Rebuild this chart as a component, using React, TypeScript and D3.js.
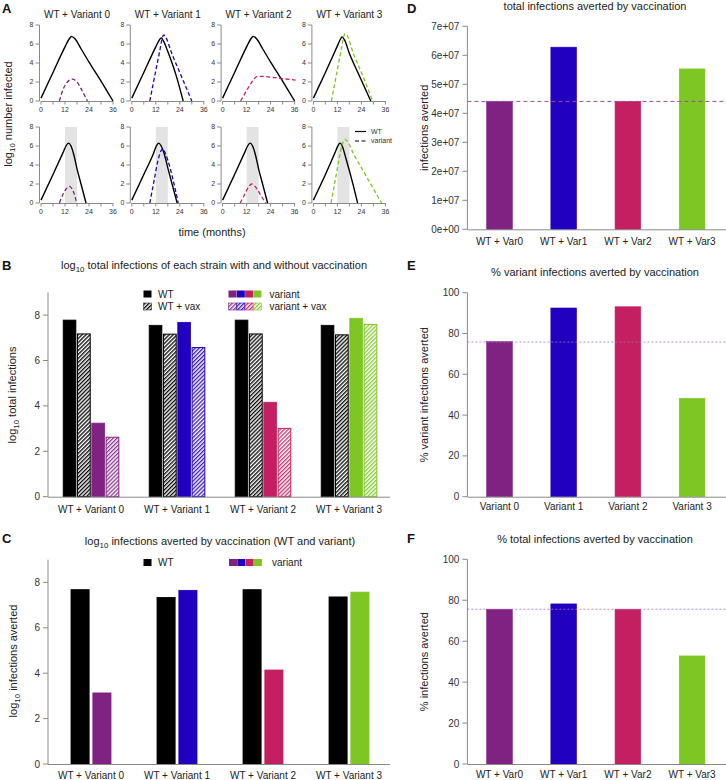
import React from "react";
import * as d3 from "d3";

const FONT = "'Liberation Sans', Arial, Helvetica, sans-serif";

// ---------- shared ----------
const variantColors = ["#7f2282", "#2200c0", "#c41f61", "#7dc623"];

// ---------- panel A data ----------
const panelATitles = ["WT + Variant 0", "WT + Variant 1", "WT + Variant 2", "WT + Variant 3"];
const monthTicks = [0, 12, 24, 36];
const monthMinorTicks = [6, 18, 30];
const logTicksA = [0, 2, 4, 6, 8];
const vaxWindow = [12, 18];

// [month, log10 number infected] — no vaccination (top row)
const wtNoVax: number[][][] = [
  [[0, 0.3], [6, 3.0], [12, 5.7], [14, 6.5], [15.3, 6.8], [17, 6.55], [20, 5.5], [24, 4.1], [30, 2.1], [36, 0]],
  [[0, 0.3], [6, 3.0], [12, 5.7], [14, 6.5], [14.8, 6.65], [16, 6.25], [18, 5.2], [22, 2.8], [25.7, 0]],
  [[0, 0.3], [6, 3.0], [12, 5.7], [14, 6.5], [15.3, 6.8], [17, 6.55], [20, 5.5], [24, 4.1], [30, 2.1], [36, 0]],
  [[0, 0.3], [6, 3.0], [12, 5.8], [13.5, 6.5], [14.3, 6.75], [15.5, 6.45], [18, 5.0], [22, 3.1], [28.7, 0]],
];
const variantNoVax: number[][][] = [
  [[9.2, 0], [11, 1.2], [13, 1.95], [15.6, 2.3], [18, 2.0], [20, 1.3], [23.2, 0]],
  [[9, 0], [12, 3.2], [14, 5.3], [15.2, 6.6], [16, 6.95], [17, 6.7], [20, 5.0], [24, 3.0], [30, 0]],
  [[9, 0], [12, 1.1], [14, 1.8], [16, 2.4], [17.5, 2.6], [20, 2.6], [24, 2.5], [30, 2.35], [36.5, 2.2]],
  [[9, 0], [12, 3.3], [14, 5.5], [15.2, 6.8], [15.8, 7.1], [16.8, 6.9], [20, 5.0], [25, 2.5], [29.6, 0]],
];
// with vaccination (bottom row)
const wtVax: number[][][] = [
  [[0, 0.3], [6, 3.0], [11, 5.3], [12.5, 6.0], [13.7, 6.3], [15, 6.0], [16.5, 5.0], [18, 3.6], [20, 2.0], [22.5, 0]],
  [[0, 0.3], [6, 3.0], [11, 5.3], [12.3, 6.0], [13.3, 6.3], [14.7, 6.0], [16.3, 5.1], [18, 3.7], [20, 2.1], [22.7, 0]],
  [[0, 0.3], [6, 3.0], [11, 5.3], [12.5, 6.0], [13.7, 6.3], [15, 6.0], [16.5, 5.0], [18, 3.6], [20, 2.0], [22.5, 0]],
  [[0, 0.3], [6, 3.0], [11, 5.4], [12.3, 6.05], [13.3, 6.3], [14.6, 5.9], [16, 4.9], [18, 3.4], [20, 1.8], [22.1, 0]],
];
const variantVax: number[][][] = [
  [[9.2, 0], [11, 0.9], [12.5, 1.45], [14.2, 1.75], [15.5, 1.5], [17, 0.7], [17.8, 0]],
  [[9, 0], [11, 2.2], [13, 4.4], [14.5, 5.45], [15.5, 5.7], [17, 5.1], [19, 3.8], [21, 2.1], [23.2, 0]],
  [[8.8, 0], [11, 0.9], [13, 1.7], [14.5, 2.0], [16, 1.8], [18, 1.2], [20, 0.5], [21.8, 0]],
  [[8.8, 0], [11, 2.5], [13, 4.8], [14.5, 6.2], [15.8, 6.7], [17, 6.5], [20, 5.2], [25, 3.35], [30, 1.5], [34.1, 0]],
];

// ---------- panels B, C data ----------
const groupLabels = ["WT + Variant 0", "WT + Variant 1", "WT + Variant 2", "WT + Variant 3"];
const logTicksB = [0, 2, 4, 6, 8];
const totalWT = [7.78, 7.55, 7.78, 7.55];
const totalWTVax = [7.17, 7.16, 7.17, 7.13];
const totalVariant = [3.24, 7.68, 4.16, 7.86];
const totalVariantVax = [2.62, 6.57, 3.01, 7.59];
const avertedWT = [7.68, 7.34, 7.68, 7.36];
const avertedVariant = [3.13, 7.65, 4.14, 7.57];

// ---------- panels D, E, F data ----------
const shortLabels = ["WT + Var0", "WT + Var1", "WT + Var2", "WT + Var3"];
const variantLabels = ["Variant 0", "Variant 1", "Variant 2", "Variant 3"];
const totalAverted = [4.41e7, 6.28e7, 4.41e7, 5.53e7];
const totalAvertedRef = 4.41e7;
const countTicks = [0, 1e7, 2e7, 3e7, 4e7, 5e7, 6e7, 7e7];
const pctVariantAverted = [76.0, 92.5, 93.1, 48.2];
const pctVariantRef = 75.8;
const pctTotalAverted = [75.6, 78.2, 75.6, 52.8];
const pctTotalRef = 75.6;
const pctTicks = [0, 20, 40, 60, 80, 100];

const AXIS = "#8a8a8a";
const TXT = "#222";

function Log10Label({ x, y, rotate, size, rest, anchor = "middle" }: any) {
  return (
    <text
      transform={`translate(${x},${y})${rotate ? " rotate(-90)" : ""}`}
      textAnchor={anchor}
      fontSize={size}
      fill={TXT}
    >
      log
      <tspan dy={size * 0.3} fontSize={size * 0.72}>10</tspan>
      <tspan dy={-size * 0.3}>{rest}</tspan>
    </text>
  );
}

function PanelA() {
  const line = d3.line<number[]>().x((d) => d[0]).y((d) => d[1]).curve(d3.curveMonotoneX);
  const rows = [
    { y0: 101, wt: wtNoVax, v: variantNoVax, shade: false },
    { y0: 203, wt: wtVax, v: variantVax, shade: true },
  ];
  const els: any[] = [];
  rows.forEach((row, r) => {
    for (let c = 0; c < 4; c++) {
      const x0 = 41 + c * 90.8;
      const x = d3.scaleLinear().domain([0, 36]).range([x0, x0 + 72]);
      const y = d3.scaleLinear().domain([0, 8]).range([row.y0, row.y0 - 76]);
      const key = `${r}-${c}`;
      if (row.shade) {
        els.push(
          <rect key={key + "sh"} x={x(vaxWindow[0])} y={y(8)} width={x(vaxWindow[1]) - x(vaxWindow[0])} height={y(0) - y(8)} fill="#e3e3e3" />
        );
      }
      // axes
      els.push(
        <g key={key + "ax"} fontSize={7} fill="#333">
          <line x1={x(0)} x2={x(36)} y1={y(0) + 0.5} y2={y(0) + 0.5} stroke={AXIS} />
          {monthTicks.concat(monthMinorTicks).map((t) => (
            <line key={"xt" + t} x1={x(t)} x2={x(t)} y1={y(0)} y2={y(0) + 3.5} stroke={AXIS} />
          ))}
          {monthTicks.map((t) => (
            <text key={"xl" + t} x={x(t)} y={y(0) + 11} textAnchor="middle">{t}</text>
          ))}
          <line x1={x0 - 1.5} x2={x0 - 1.5} y1={y(0)} y2={y(8)} stroke={AXIS} />
          {logTicksA.map((t) => (
            <g key={"yt" + t}>
              <line x1={x0 - 5.5} x2={x0 - 1.5} y1={y(t)} y2={y(t)} stroke={AXIS} />
              <text x={x0 - 7.5} y={y(t)} dy="0.35em" textAnchor="end">{t}</text>
            </g>
          ))}
        </g>
      );
      els.push(
        <path key={key + "wt"} d={line(row.wt[c].map((d) => [x(d[0]), y(d[1])]))!} fill="none" stroke="#000" strokeWidth={1.4} />
      );
      els.push(
        <path key={key + "v"} d={line(row.v[c].map((d) => [x(d[0]), y(d[1])]))!} fill="none" stroke={variantColors[c]} strokeWidth={1.3} strokeDasharray="4,2.5" />
      );
      if (r === 0) {
        els.push(
          <text key={key + "ti"} x={x0 + 36} y={18} textAnchor="middle" fontSize={10} fill={TXT}>{panelATitles[c]}</text>
        );
      }
    }
  });
  return (
    <g>
      <text x={2} y={13} fontSize={13} fontWeight="bold" fill="#111">A</text>
      {els}
      {/* legend */}
      <g fontSize={7} fill="#333">
        <line x1={355} x2={366} y1={131.5} y2={131.5} stroke="#000" strokeWidth={1.2} />
        <text x={371} y={131.5} dy="0.35em">WT</text>
        <line x1={355} x2={366} y1={141} y2={141} stroke="#000" strokeWidth={1.2} strokeDasharray="4,2.5" />
        <text x={371} y={141} dy="0.35em">variant</text>
      </g>
      <Log10Label x={12} y={114} rotate size={11} rest=" number infected" />
      <text x={212} y={236} textAnchor="middle" fontSize={11} fill={TXT}>time (months)</text>
    </g>
  );
}

function YAxisLeft({ x, y, ticks, fmt, top }: any) {
  return (
    <g fontSize={10} fill="#333">
      <line x1={x} x2={x} y1={y(0)} y2={y(top)} stroke={AXIS} />
      {ticks.map((t: number) => (
        <g key={t}>
          <line x1={x - 5} x2={x} y1={y(t)} y2={y(t)} stroke={AXIS} />
          <text x={x - 8} y={y(t)} dy="0.35em" textAnchor="end">{fmt ? fmt(t) : t}</text>
        </g>
      ))}
    </g>
  );
}

function PanelB() {
  const x = d3.scaleBand<string>().domain(groupLabels).range([48, 392]).paddingInner(0.353).paddingOuter(0.1765);
  const inner = d3.scaleBand<string>().domain(["wt", "wtvax", "var", "varvax"]).range([0, x.bandwidth()]).paddingInner(0.11);
  const y = d3.scaleLinear().domain([0, 9]).range([496.7, 292.4]);
  const bw = inner.bandwidth();
  return (
    <g>
      <text x={2} y={270} fontSize={13} fontWeight="bold" fill="#111">B</text>
      <Log10Label x={214} y={269} size={11} rest=" total infections of each strain with and without vaccination" />
      <Log10Label x={16} y={395} rotate size={11} rest=" total infections" />
      {groupLabels.map((g, i) => {
        const gx = x(g)!;
        const col = variantColors[i];
        return (
          <g key={g}>
            <rect x={gx + inner("wt")!} y={y(totalWT[i])} width={bw} height={y(0) - y(totalWT[i])} fill="#000" stroke="#000" strokeWidth={0.8} />
            <rect x={gx + inner("wtvax")!} y={y(totalWTVax[i])} width={bw} height={y(0) - y(totalWTVax[i])} fill="url(#hatch-k)" stroke="#000" strokeWidth={1} />
            <rect x={gx + inner("var")!} y={y(totalVariant[i])} width={bw} height={y(0) - y(totalVariant[i])} fill={col} stroke={col} strokeWidth={0.8} />
            <rect x={gx + inner("varvax")!} y={y(totalVariantVax[i])} width={bw} height={y(0) - y(totalVariantVax[i])} fill={`url(#hatch-${i})`} stroke={col} strokeWidth={1} />
            <text x={gx + x.bandwidth() / 2} y={513} textAnchor="middle" fontSize={10} fill={TXT}>{g}</text>
          </g>
        );
      })}
      <line x1={48} x2={390} y1={y(0) + 0.5} y2={y(0) + 0.5} stroke={AXIS} />
      <YAxisLeft x={48} y={y} ticks={logTicksB} top={9} />
      {/* legend */}
      <g fontSize={10} fill={TXT}>
        <rect x={143.5} y={290.5} width={8} height={7} fill="#000" />
        <text x={158} y={294} dy="0.35em">WT</text>
        <rect x={143.5} y={303} width={8} height={7} fill="url(#hatch-k)" stroke="#333" strokeWidth={0.6} />
        <text x={158} y={306.5} dy="0.35em">WT + vax</text>
        {variantColors.map((c, i) => (
          <g key={c}>
            <rect x={228.5 + i * 8.3} y={290.5} width={8} height={7} fill={c} />
            <rect x={228.5 + i * 8.3} y={303} width={8} height={7} fill={`url(#hatch-${i})`} stroke={c} strokeWidth={0.6} />
          </g>
        ))}
        <text x={269.5} y={294} dy="0.35em">variant</text>
        <text x={269.5} y={306.5} dy="0.35em">variant + vax</text>
      </g>
    </g>
  );
}

function PanelC() {
  const x = d3.scaleBand<string>().domain(groupLabels).range([48, 392]).paddingInner(0.535).paddingOuter(0.2675);
  const inner = d3.scaleBand<string>().domain(["wt", "var"]).range([0, x.bandwidth()]).paddingInner(0.17);
  const y = d3.scaleLinear().domain([0, 9]).range([764, 559.7]);
  const bw = inner.bandwidth();
  return (
    <g>
      <text x={2} y={543} fontSize={13} fontWeight="bold" fill="#111">C</text>
      <Log10Label x={220} y={545} size={11} rest=" infections averted by vaccination (WT and variant)" />
      <Log10Label x={17} y={661} rotate size={11} rest=" infections averted" />
      {groupLabels.map((g, i) => {
        const gx = x(g)!;
        const col = variantColors[i];
        return (
          <g key={g}>
            <rect x={gx + inner("wt")!} y={y(avertedWT[i])} width={bw} height={y(0) - y(avertedWT[i])} fill="#000" stroke="#000" strokeWidth={0.8} />
            <rect x={gx + inner("var")!} y={y(avertedVariant[i])} width={bw} height={y(0) - y(avertedVariant[i])} fill={col} stroke={col} strokeWidth={0.8} />
            <text x={gx + x.bandwidth() / 2} y={779} textAnchor="middle" fontSize={10} fill={TXT}>{g}</text>
          </g>
        );
      })}
      <line x1={48} x2={390} y1={y(0) + 0.5} y2={y(0) + 0.5} stroke={AXIS} />
      <YAxisLeft x={48} y={y} ticks={logTicksB} top={9} />
      <g fontSize={10} fill={TXT}>
        <rect x={143.5} y={559} width={8} height={7} fill="#000" />
        <text x={158} y={562.5} dy="0.35em">WT</text>
        {variantColors.map((c, i) => (
          <rect key={c} x={229 + i * 8.3} y={559} width={8} height={7} fill={c} />
        ))}
        <text x={272} y={562.5} dy="0.35em">variant</text>
      </g>
    </g>
  );
}

function RightPanel({ letter, letterY, title, titleY, ylabel, labels, values, ref0, ticks, fmt, top, yRange, labelY, dash, refColor, refWidth }: any) {
  const x = d3.scaleBand<string>().domain(labels).range([467.4, 724.2]).paddingInner(0.6).paddingOuter(0.3);
  const y = d3.scaleLinear().domain([0, top]).range(yRange);
  const yc = (yRange[0] + yRange[1]) / 2;
  return (
    <g>
      <text x={407} y={letterY} fontSize={13} fontWeight="bold" fill="#111">{letter}</text>
      <text x={595} y={titleY} textAnchor="middle" fontSize={11} fill={TXT}>{title}</text>
      <text transform={`translate(428,${yc}) rotate(-90)`} textAnchor="middle" fontSize={11} fill={TXT}>{ylabel}</text>
      {labels.map((l: string, i: number) => (
        <g key={l}>
          <rect x={x(l)} y={y(values[i])} width={x.bandwidth()} height={y(0) - y(values[i])} fill={variantColors[i]} stroke={variantColors[i]} strokeWidth={0.6} />
          <text x={x(l)! + x.bandwidth() / 2} y={labelY} textAnchor="middle" fontSize={10} fill={TXT}>{l}</text>
        </g>
      ))}
      <line x1={467.4} x2={726} y1={y(ref0)} y2={y(ref0)} stroke={refColor} strokeWidth={refWidth} strokeDasharray={dash} />
      <line x1={467.4} x2={726} y1={y(0) + 0.5} y2={y(0) + 0.5} stroke={AXIS} />
      <YAxisLeft x={467.4} y={y} ticks={ticks} fmt={fmt} top={top} />
    </g>
  );
}

export default function App() {
  const fmtSci = (v: number) => (v === 0 ? "0e+00" : `${Math.round(v / 1e7)}e+07`);
  return (
    <svg
      width={726}
      height={780}
      style={{ position: "absolute", left: 0, top: 0, background: "#fff" }}
      fontFamily={FONT}
    >
      <defs>
        <pattern id="hatch-k" patternUnits="userSpaceOnUse" width={2.8} height={2.8} patternTransform="rotate(45)">
          <rect width={2.8} height={2.8} fill="#fff" />
          <line x1={0.7} y1={0} x2={0.7} y2={2.8} stroke="#000" strokeWidth={1.3} />
        </pattern>
        {variantColors.map((c, i) => (
          <pattern key={c} id={`hatch-${i}`} patternUnits="userSpaceOnUse" width={2.8} height={2.8} patternTransform="rotate(45)">
            <rect width={2.8} height={2.8} fill="#fff" />
            <line x1={0.7} y1={0} x2={0.7} y2={2.8} stroke={c} strokeWidth={1.2} />
          </pattern>
        ))}
      </defs>
      <rect width={726} height={780} fill="#fff" />
      <PanelA />
      <PanelB />
      <PanelC />
      <RightPanel
        letter="D" letterY={13} title="total infections averted by vaccination" titleY={10}
        ylabel="infections averted" labels={shortLabels} values={totalAverted} ref0={totalAvertedRef}
        ticks={countTicks} fmt={fmtSci} top={7e7} yRange={[229.3, 26.3]} labelY={245}
        dash="4,3" refColor="#9a4aa0" refWidth={1}
      />
      <RightPanel
        letter="E" letterY={270} title="% variant infections averted by vaccination" titleY={276}
        ylabel="% variant infections averted" labels={variantLabels} values={pctVariantAverted} ref0={pctVariantRef}
        ticks={pctTicks} top={100} yRange={[496.7, 292.7]} labelY={510}
        dash="2,2" refColor="#b46cc4" refWidth={0.8}
      />
      <RightPanel
        letter="F" letterY={543} title="% total infections averted by vaccination" titleY={543}
        ylabel="% infections averted" labels={shortLabels} values={pctTotalAverted} ref0={pctTotalRef}
        ticks={pctTicks} top={100} yRange={[764, 559.3]} labelY={778}
        dash="2,2" refColor="#b46cc4" refWidth={0.8}
      />
    </svg>
  );
}
